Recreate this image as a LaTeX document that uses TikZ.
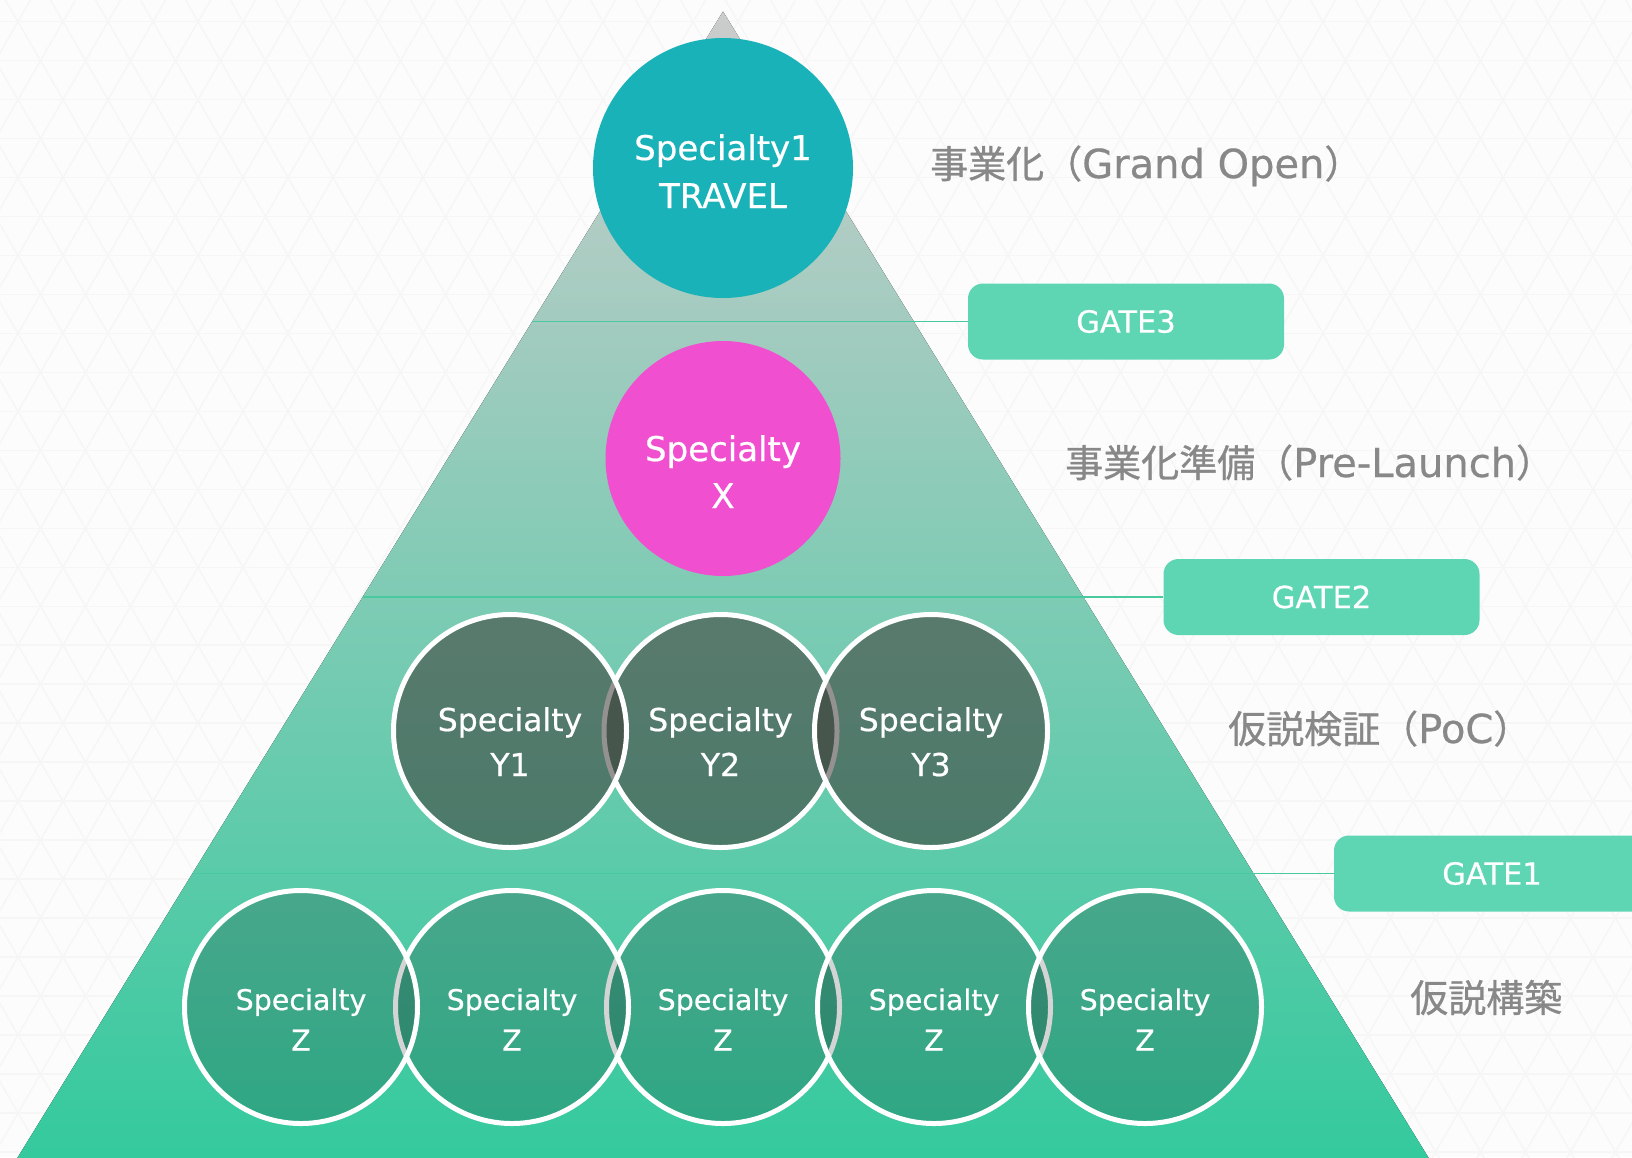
\documentclass[tikz,border=0pt]{standalone}
\usepackage{fontspec}
\setmainfont[FakeBold=0.5]{DejaVu Sans}
\newfontfamily\jpfont[FakeBold=0.8]{Noto Sans CJK JP}
\newcommand{\jtext}[1]{{\jpfont\fontsize{38}{38}\selectfont #1}}
\definecolor{bgc}{HTML}{FCFCFC}
\definecolor{gridc}{HTML}{F6F6F6}
\definecolor{pyrtop}{HTML}{CCCCCC}
\definecolor{pyrbot}{HTML}{33CA9D}
\definecolor{tealc}{HTML}{19B2B8}
\definecolor{magc}{HTML}{F050CF}
\definecolor{ydark}{RGB}{61,57,53}
\definecolor{gatec}{HTML}{5ED6B4}
\definecolor{glinec}{HTML}{48C99E}
\definecolor{labc}{HTML}{888888}
\tikzset{
  bubble/.style={circle, inner sep=0pt, minimum size=233pt, draw=white, line width=5pt},
  ybub/.style={bubble, fill=ydark, fill opacity=0.55},
  zbub/.style={bubble, fill=black, fill opacity=0.17},
  ctext/.style={text=white, inner sep=0pt, anchor=base},
  toptext/.style={ctext, font=\fontsize{34}{34}\selectfont},
  magtext/.style={ctext, font=\fontsize{34}{34}\selectfont},
  ytext/.style={ctext, font=\fontsize{31.5}{31.5}\selectfont},
  ztext/.style={ctext, font=\fontsize{28.5}{28.5}\selectfont},
  gatebox/.style={fill=gatec, rounded corners=15pt, minimum width=316pt, minimum height=76pt,
    inner sep=0pt, text=white, font=\fontsize{30.5}{30.5}\selectfont},
  gateline/.style={draw=glinec, line width=1.6pt},
  phase/.style={text=labc, inner sep=0pt, anchor=base west, font=\fontsize{40}{40}\selectfont},
  gridline/.style={draw=gridc, line width=1.5pt}
}
\begin{document}
\begin{tikzpicture}[x=1pt,y=-1pt]
\useasboundingbox (0,0) rectangle (1632,1157);
\begin{scope}
\clip (0,0) rectangle (1632,1157);
\fill[bgc] (0,0) rectangle (1632,1157);
% faint triangular lattice
\foreach \n in {-1,...,30} {\draw[gridline] (-10,{21.7+38.97*\n}) -- (1650,{21.7+38.97*\n});}
\foreach \k in {-17,...,53} {
  \draw[gridline] ({18+45*\k-0.57735*60},-60+21.7) -- ({18+45*\k+0.57735*1200},1200+21.7);
  \draw[gridline] ({18+45*\k+0.57735*60},-60+21.7) -- ({18+45*\k-0.57735*1200},1200+21.7);
}
% pyramid
\fill[top color=pyrtop, bottom color=pyrbot] (723,11.5) -- (1433,1165) -- (13,1165) -- cycle;
% gates
\coordinate (g3s) at (532.2,321.5);
\coordinate (g2s) at (362.7,597);
\coordinate (g1s) at (192.6,873.5);
\node[gatebox] (gate3) at (1126,321.5) {GATE3};
\node[gatebox] (gate2) at (1321.5,597) {GATE2};
\node[gatebox] (gate1) at (1492,873.5) {GATE1};
\draw[gateline] (g3s) -- (gate3.west);
\draw[gateline] (g2s) -- (gate2.west);
\draw[gateline] (g1s) -- (gate1.west);
% top circles
\node[circle, fill=tealc, inner sep=0pt, minimum size=260pt] (travel) at (723,168) {};
\node[toptext] (travela) at (723,160) {Specialty1};
\node[toptext] (travelb) at (723,208) {TRAVEL};
\node[circle, fill=magc, inner sep=0pt, minimum size=235pt] (spx) at (723,458.5) {};
\node[magtext] (spxa) at (723,461) {Specialty};
\node[magtext] (spxb) at (723,508) {X};
% Y row
\node[ybub] (y2) at (720.5,731) {};
\node[ybub] (y1) at (510,731) {};
\node[ybub] (y3) at (931,731) {};
\foreach \nm/\x/\lab in {y1/510/Y1, y2/720.5/Y2, y3/931/Y3} {
  \node[ytext] (\nm a) at (\x,731) {Specialty};
  \node[ytext] (\nm b) at (\x,776) {\lab};
}
% Z row
\node[zbub] (z3) at (723,1007) {};
\node[zbub] (z2) at (512,1007) {};
\node[zbub] (z4) at (934,1007) {};
\node[zbub] (z1) at (301,1007) {};
\node[zbub] (z5) at (1145,1007) {};
\foreach \nm/\x in {z1/301, z2/512, z3/723, z4/934, z5/1145} {
  \node[ztext] (\nm a) at (\x,1010) {Specialty};
  \node[ztext] (\nm b) at (\x,1050.5) {Z};
}
% phase labels
\node[phase] (ph4) at (930,178) {\jtext{事業化（}Grand Open\jtext{）}};
\node[phase] (ph3) at (1065,477) {\jtext{事業化準備（}Pre-Launch\jtext{）}};
\node[phase] (ph2) at (1228,743) {\jtext{仮説検証（}PoC\jtext{）}};
\node[phase] (ph1) at (1410,1012) {\jtext{仮説構築}};
\end{scope}
\end{tikzpicture}
\end{document}
